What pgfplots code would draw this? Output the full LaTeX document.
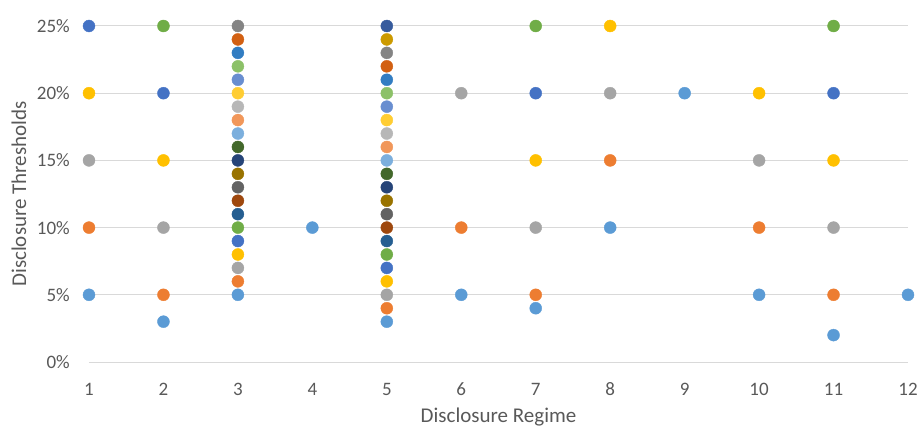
\documentclass[border=0pt]{standalone}
\usepackage{fontspec}
\setmainfont{Carlito}
\usepackage{pgfplots}
\pgfplotsset{compat=1.18}
\definecolor{txt}{HTML}{595959}
\definecolor{gridc}{HTML}{D9D9D9}
\definecolor{c1}{HTML}{5B9BD5}
\definecolor{c2}{HTML}{ED7D31}
\definecolor{c3}{HTML}{A5A5A5}
\definecolor{c4}{HTML}{FFC000}
\definecolor{c5}{HTML}{4472C4}
\definecolor{c6}{HTML}{70AD47}
\definecolor{c7}{HTML}{255E91}
\definecolor{c8}{HTML}{9E480E}
\definecolor{c9}{HTML}{636363}
\definecolor{c10}{HTML}{997300}
\definecolor{c11}{HTML}{264478}
\definecolor{c12}{HTML}{43682B}
\definecolor{c13}{HTML}{7CAFDD}
\definecolor{c14}{HTML}{F1975A}
\definecolor{c15}{HTML}{B7B7B7}
\definecolor{c16}{HTML}{FFCD33}
\definecolor{c17}{HTML}{698ED0}
\definecolor{c18}{HTML}{8CC168}
\definecolor{c19}{HTML}{327DC2}
\definecolor{c20}{HTML}{D26012}
\definecolor{c21}{HTML}{848484}
\definecolor{c22}{HTML}{CC9A00}
\definecolor{c23}{HTML}{365B9D}
\begin{document}
\begin{tikzpicture}
\begin{axis}[
  name=ax,
  scale only axis, width=819bp, height=336bp,
  xmin=1, xmax=12, ymin=0, ymax=25,
  xtick={1,...,12}, ytick={0,5,...,25},
  ymajorgrids, grid style={draw=gridc, line width=1bp},
  axis line style={draw=none},
  major tick length=0pt,
  clip=false,
  /pgf/number format/assume math mode=true,
  tick label style={font=\fontsize{19bp}{22bp}\selectfont, text=txt},
  yticklabel={\pgfmathprintnumber{\tick}\%},
  yticklabel style={anchor=east, inner sep=0pt, xshift=-19bp},
  xticklabel style={anchor=base, inner sep=0pt, yshift=-33bp},
  xlabel={Disclosure Regime}, ylabel={Disclosure Thresholds},
  label style={font=\fontsize{21bp}{24bp}\selectfont, text=txt},
  xlabel style={at={(axis description cs:0.5,-0.1786)}, anchor=base, inner sep=0pt},
  ylabel style={at={(axis description cs:-0.0855,0.5)}, anchor=center, inner sep=0pt, rotate=0},
  every axis plot/.append style={only marks, mark=*, mark size=6bp},
]
\addplot[c1, mark options={draw=c1, fill=c1}] coordinates {(1,5)(2,3)(3,5)(4,10)(5,3)(6,5)(7,4)(8,10)(9,20)(10,5)(11,2)(12,5)};
\addplot[c2, mark options={draw=c2, fill=c2}] coordinates {(1,10)(2,5)(3,6)(5,4)(6,10)(7,5)(8,15)(10,10)(11,5)};
\addplot[c3, mark options={draw=c3, fill=c3}] coordinates {(1,15)(2,10)(3,7)(5,5)(6,20)(7,10)(8,20)(10,15)(11,10)};
\addplot[c4, mark options={draw=c4, fill=c4}] coordinates {(1,20)(2,15)(3,8)(5,6)(7,15)(8,25)(10,20)(11,15)};
\addplot[c5, mark options={draw=c5, fill=c5}] coordinates {(1,25)(2,20)(3,9)(5,7)(7,20)(11,20)};
\addplot[c6, mark options={draw=c6, fill=c6}] coordinates {(2,25)(3,10)(5,8)(7,25)(11,25)};
\addplot[c7, mark options={draw=c7, fill=c7}] coordinates {(3,11)(5,9)};
\addplot[c8, mark options={draw=c8, fill=c8}] coordinates {(3,12)(5,10)};
\addplot[c9, mark options={draw=c9, fill=c9}] coordinates {(3,13)(5,11)};
\addplot[c10, mark options={draw=c10, fill=c10}] coordinates {(3,14)(5,12)};
\addplot[c11, mark options={draw=c11, fill=c11}] coordinates {(3,15)(5,13)};
\addplot[c12, mark options={draw=c12, fill=c12}] coordinates {(3,16)(5,14)};
\addplot[c13, mark options={draw=c13, fill=c13}] coordinates {(3,17)(5,15)};
\addplot[c14, mark options={draw=c14, fill=c14}] coordinates {(3,18)(5,16)};
\addplot[c15, mark options={draw=c15, fill=c15}] coordinates {(3,19)(5,17)};
\addplot[c16, mark options={draw=c16, fill=c16}] coordinates {(3,20)(5,18)};
\addplot[c17, mark options={draw=c17, fill=c17}] coordinates {(3,21)(5,19)};
\addplot[c18, mark options={draw=c18, fill=c18}] coordinates {(3,22)(5,20)};
\addplot[c19, mark options={draw=c19, fill=c19}] coordinates {(3,23)(5,21)};
\addplot[c20, mark options={draw=c20, fill=c20}] coordinates {(3,24)(5,22)};
\addplot[c21, mark options={draw=c21, fill=c21}] coordinates {(3,25)(5,23)};
\addplot[c22, mark options={draw=c22, fill=c22}] coordinates {(5,24)};
\addplot[c23, mark options={draw=c23, fill=c23}] coordinates {(5,25)};
\coordinate (o) at (rel axis cs:0,0);
\end{axis}
\pgfresetboundingbox
\path[use as bounding box] (o) ++(-89bp,-65bp) rectangle ++(921bp,427bp);
\end{tikzpicture}
\end{document}
